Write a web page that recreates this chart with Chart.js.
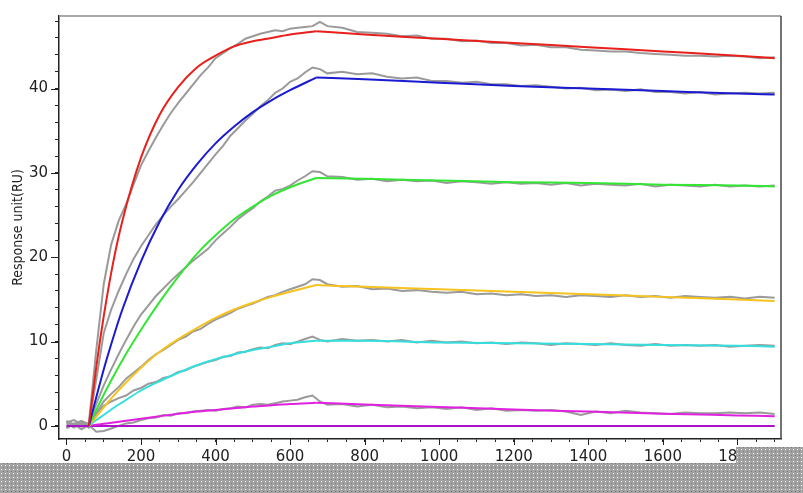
<!DOCTYPE html>
<html>
<head>
<meta charset="utf-8">
<script src="https://cdn.jsdelivr.net/npm/chart.js@4"></script>
<style>
  html, body { margin: 0; padding: 0; background: #fff; }
  #wrap { width: 803px; height: 493px; }
</style>
</head>
<body>
<div id="wrap"><canvas id="sprChart" width="803" height="493"></canvas></div>
<script>
// fitted curves: association (injection) and dissociation phases
const assocT  = [60, 80, 100, 125, 150, 200, 250, 300, 350, 400, 450, 500, 550, 600, 670];
const dissocT = [670, 800, 1000, 1200, 1400, 1600, 1800, 1900];

const redAssoc     = [0, 7.0, 13.0, 19.3, 24.3, 31.8, 36.9, 40.2, 42.5, 43.9, 45.0, 45.6, 46.0, 46.4, 46.8];
const redDissoc    = [46.8, 46.4, 45.9, 45.4, 44.9, 44.4, 43.9, 43.6];
const blueAssoc    = [0, 3.4, 6.7, 10.4, 13.8, 19.5, 24.2, 28.0, 31.0, 33.5, 35.5, 37.2, 38.6, 39.8, 41.3];
const blueDissoc   = [41.3, 41.1, 40.7, 40.3, 40.0, 39.7, 39.4, 39.3];
const greenAssoc   = [0, 1.9, 3.7, 5.8, 7.8, 11.4, 14.7, 17.7, 20.4, 22.6, 24.5, 26.0, 27.3, 28.3, 29.4];
const greenDissoc  = [29.4, 29.3, 29.1, 28.9, 28.8, 28.6, 28.5, 28.4];
const yellowAssoc  = [0, 1.1, 2.2, 3.5, 4.7, 6.9, 8.8, 10.3, 11.6, 12.8, 13.8, 14.6, 15.3, 15.9, 16.7];
const yellowDissoc = [16.7, 16.5, 16.2, 15.9, 15.6, 15.3, 15.0, 14.8];
const cyanAssoc    = [0, 0.7, 1.3, 2.1, 2.8, 4.2, 5.3, 6.3, 7.2, 7.9, 8.5, 9.0, 9.4, 9.8, 10.1];
const cyanDissoc   = [10.1, 10.1, 9.9, 9.8, 9.7, 9.6, 9.5, 9.4];
const pinkAssoc    = [0, 0.15, 0.25, 0.4, 0.55, 0.85, 1.15, 1.45, 1.7, 1.9, 2.1, 2.3, 2.45, 2.6, 2.75];
const pinkDissoc   = [2.75, 2.55, 2.25, 1.95, 1.7, 1.45, 1.25, 1.15];
const flatT = [0, 1900];
const flatY = [0, 0];

// measured (noisy) sensorgrams, shown in gray
const grayT = [0, 20, 40, 60, 80, 100, 120, 140, 160, 180, 200, 220, 240, 260, 280, 300, 320, 340, 360, 380,
  400, 420, 440, 460, 480, 500, 520, 540, 560, 580, 600, 620, 640, 660, 680, 700,
  740, 780, 820, 860, 900, 940, 980, 1020, 1060, 1100, 1140, 1180, 1220, 1260, 1300, 1340, 1380, 1420,
  1460, 1500, 1540, 1580, 1620, 1660, 1700, 1740, 1780, 1820, 1860, 1900];

const redRaw = [0.4, 0.7, 0.2, 0.3, 9.0, 16.8, 21.5, 24.3, 26.3, 28.6, 30.9, 32.6, 34.2, 35.7, 37.1, 38.3, 39.4, 40.5, 41.6, 42.5,
  43.6, 44.2, 44.8, 45.3, 45.9, 46.2, 46.5, 46.7, 46.9, 46.8, 47.1, 47.2, 47.3, 47.4, 47.9, 47.4,
  47.2, 46.7, 46.6, 46.5, 46.2, 46.3, 45.9, 45.9, 45.6, 45.7, 45.4, 45.4, 45.1, 45.2, 44.9, 44.9, 44.6, 44.5,
  44.4, 44.4, 44.2, 44.1, 44.0, 43.9, 43.9, 43.8, 43.9, 43.8, 43.6, 43.7];
const blueRaw = [0.5, 0.2, 0.6, 0.2, 5.5, 11.0, 13.8, 16.0, 18.0, 19.8, 21.3, 22.6, 23.9, 25.0, 26.0, 26.9, 27.9, 28.9, 30.0, 31.1,
  32.2, 33.2, 34.4, 35.3, 36.2, 37.0, 37.9, 38.6, 39.5, 40.0, 40.8, 41.2, 41.9, 42.5, 42.3, 41.8,
  42.0, 41.7, 41.8, 41.4, 41.2, 41.3, 40.9, 40.9, 40.7, 40.8, 40.5, 40.5, 40.3, 40.4, 40.2, 40.0, 40.1, 39.8,
  39.9, 39.7, 39.9, 39.6, 39.6, 39.4, 39.6, 39.3, 39.4, 39.5, 39.4, 39.5];
const greenRaw = [-0.2, 0.3, -0.1, 0.1, 2.6, 4.8, 6.7, 8.5, 10.2, 11.8, 13.2, 14.3, 15.4, 16.3, 17.2, 18.0, 18.8, 19.6, 20.3, 21.0,
  22.0, 22.8, 23.6, 24.5, 25.2, 25.8, 26.6, 27.2, 27.9, 28.1, 28.5, 29.1, 29.6, 30.2, 30.1, 29.6,
  29.5, 29.2, 29.3, 29.0, 29.2, 29.0, 29.1, 28.8, 29.0, 28.9, 28.7, 28.9, 28.7, 28.8, 28.6, 28.8, 28.5, 28.7,
  28.6, 28.5, 28.7, 28.4, 28.6, 28.5, 28.4, 28.6, 28.4, 28.5, 28.4, 28.5];
const yellowRaw = [0.3, -0.2, 0.4, 0.0, 1.5, 2.9, 3.8, 4.6, 5.6, 6.3, 7.0, 7.8, 8.5, 9.0, 9.6, 10.2, 10.6, 11.2, 11.5, 12.1,
  12.6, 13.0, 13.4, 13.9, 14.2, 14.5, 14.9, 15.3, 15.5, 15.9, 16.2, 16.5, 16.8, 17.4, 17.3, 16.8,
  16.5, 16.6, 16.2, 16.3, 16.0, 16.1, 15.9, 15.8, 15.9, 15.6, 15.7, 15.5, 15.6, 15.4, 15.5, 15.3, 15.5, 15.4,
  15.3, 15.5, 15.3, 15.4, 15.2, 15.4, 15.3, 15.2, 15.3, 15.1, 15.3, 15.2];
const cyanRaw = [0.6, 0.1, 0.5, -0.2, 1.4, 2.4, 2.9, 3.3, 3.6, 4.2, 4.5, 5.0, 5.2, 5.7, 5.9, 6.4, 6.6, 7.0, 7.3, 7.6,
  7.8, 8.2, 8.3, 8.7, 8.8, 9.1, 9.3, 9.2, 9.6, 9.8, 9.7, 10.0, 10.3, 10.6, 10.2, 10.0,
  10.3, 10.1, 10.2, 10.0, 10.2, 9.9, 10.1, 9.9, 10.0, 9.8, 9.9, 9.7, 9.9, 9.8, 9.6, 9.8, 9.7, 9.6,
  9.8, 9.6, 9.5, 9.7, 9.5, 9.6, 9.5, 9.6, 9.4, 9.5, 9.6, 9.5];
const pinkRaw = [-0.3, 0.2, -0.4, 0.1, -0.7, -0.6, -0.3, 0.0, 0.3, 0.4, 0.7, 0.9, 1.0, 1.3, 1.2, 1.5, 1.5, 1.7, 1.8, 1.9,
  1.8, 2.0, 2.1, 2.3, 2.2, 2.5, 2.6, 2.5, 2.7, 2.9, 3.0, 3.1, 3.4, 3.6, 2.9, 2.5,
  2.6, 2.3, 2.5, 2.2, 2.3, 2.1, 2.2, 2.0, 2.2, 1.9, 2.1, 1.8, 1.9, 1.8, 1.9, 1.7, 1.3, 1.7,
  1.5, 1.8, 1.6, 1.5, 1.4, 1.6, 1.5, 1.5, 1.6, 1.5, 1.6, 1.4];

function pts(xs, ys) {
    return xs.map((x, i) => ({ x: x, y: ys[i] }));
}

function rawSet(ys) {
    return {
        data: pts(grayT, ys),
        borderColor: '#9a9a9a',
        borderWidth: 2,
        pointRadius: 0,
        tension: 0,
        order: 2,
    };
}

function fitSet(xs, ys, color) {
    return {
        data: pts(xs, ys),
        borderColor: color,
        borderWidth: 2,
        pointRadius: 0,
        cubicInterpolationMode: 'monotone',
        order: 1,
    };
}

const fits = [
    [redAssoc, redDissoc, '#e8201c'],
    [blueAssoc, blueDissoc, '#1a1ad2'],
    [greenAssoc, greenDissoc, '#33e633'],
    [yellowAssoc, yellowDissoc, '#f5c21e'],
    [cyanAssoc, cyanDissoc, '#35dede'],
    [pinkAssoc, pinkDissoc, '#e022e0'],
];

const datasets = [redRaw, blueRaw, greenRaw, yellowRaw, cyanRaw, pinkRaw].map(rawSet);
fits.forEach(f => {
    datasets.push(fitSet(assocT, f[0], f[2]));
    datasets.push(fitSet(dissocT, f[1], f[2]));
});
datasets.push({
    data: pts(flatT, flatY),
    borderColor: '#a812c8',
    borderWidth: 2,
    pointRadius: 0,
    order: 1,
});

// longer major ticks, top/right frame and the dithered strip at the bottom
const framePlugin = {
    id: 'frame',
    afterDraw(chart) {
        const ctx = chart.ctx;
        const a = chart.chartArea;
        const xs = chart.scales.x, ys = chart.scales.y;
        ctx.save();
        ctx.strokeStyle = '#222';
        ctx.lineWidth = 1;
        ctx.beginPath();
        for (let v = 0; v <= 40; v += 10) {
            const py = Math.round(ys.getPixelForValue(v)) + 0.5;
            ctx.moveTo(a.left - 8, py);
            ctx.lineTo(a.left, py);
        }
        for (let v = 0; v <= 1800; v += 200) {
            const px = Math.round(xs.getPixelForValue(v)) + 0.5;
            ctx.moveTo(px, a.bottom);
            ctx.lineTo(px, a.bottom + 6);
        }
        ctx.stroke();

        ctx.lineWidth = 1.5;
        ctx.strokeStyle = '#8c8c8c';
        ctx.beginPath();
        ctx.moveTo(a.left, a.top);
        ctx.lineTo(a.right, a.top);
        ctx.stroke();
        ctx.strokeStyle = '#444';
        ctx.beginPath();
        ctx.moveTo(a.right, a.top);
        ctx.lineTo(a.right, a.bottom);
        ctx.stroke();

        const tile = document.createElement('canvas');
        tile.width = 4; tile.height = 4;
        const t = tile.getContext('2d');
        t.fillStyle = '#a2a2a2';
        t.fillRect(0, 0, 4, 4);
        t.fillStyle = '#f4f4f4';
        t.fillRect(1, 1, 1, 1);
        t.fillStyle = '#7a7a7a';
        t.fillRect(3, 3, 1, 1);
        ctx.fillStyle = ctx.createPattern(tile, 'repeat');
        ctx.fillRect(0, 463, chart.width, chart.height - 463);
        ctx.fillRect(736, 447, chart.width - 736, 16);
        ctx.restore();
    }
};

const ctx = document.getElementById('sprChart').getContext('2d');
new Chart(ctx, {
    type: 'line',
    data: { datasets: datasets },
    options: {
        responsive: false,
        animation: false,
        layout: { padding: { top: 9, right: 22, left: 0, bottom: 0 } },
        plugins: {
            legend: { display: false },
            tooltip: { enabled: false },
        },
        scales: {
            x: {
                type: 'linear',
                min: -20,
                max: 1917,
                afterBuildTicks: s => {
                    const t = [];
                    for (let v = 0; v <= 1900; v += 50) t.push({ value: v });
                    s.ticks = t;
                },
                afterFit: s => { s.height = 54; },
                border: { color: '#222', width: 1.5 },
                grid: { drawOnChartArea: false, tickLength: 3, color: '#222' },
                ticks: {
                    autoSkip: false,
                    maxRotation: 0,
                    padding: 6,
                    color: '#222',
                    font: { family: 'DejaVu Sans', size: 15 },
                    callback: v => (v % 200 === 0 ? v : ''),
                },
            },
            y: {
                type: 'linear',
                min: -1.55,
                max: 48.6,
                afterBuildTicks: s => {
                    const t = [];
                    for (let v = 0; v <= 48; v += 2) t.push({ value: v });
                    s.ticks = t;
                },
                afterFit: s => { s.width = 59; },
                border: { color: '#222', width: 1.5 },
                grid: { drawOnChartArea: false, tickLength: 4, color: '#222' },
                title: {
                    display: true,
                    text: 'Response unit(RU)',
                    color: '#222',
                    font: { family: 'Liberation Sans Narrow, DejaVu Sans Condensed, sans-serif', size: 14 },
                    padding: { top: 10, bottom: 0 },
                },
                ticks: {
                    autoSkip: false,
                    padding: 7,
                    color: '#222',
                    font: { family: 'DejaVu Sans', size: 15 },
                    callback: v => (v % 10 === 0 ? v : ''),
                },
            },
        },
    },
    plugins: [framePlugin],
});
</script>
</body>
</html>
